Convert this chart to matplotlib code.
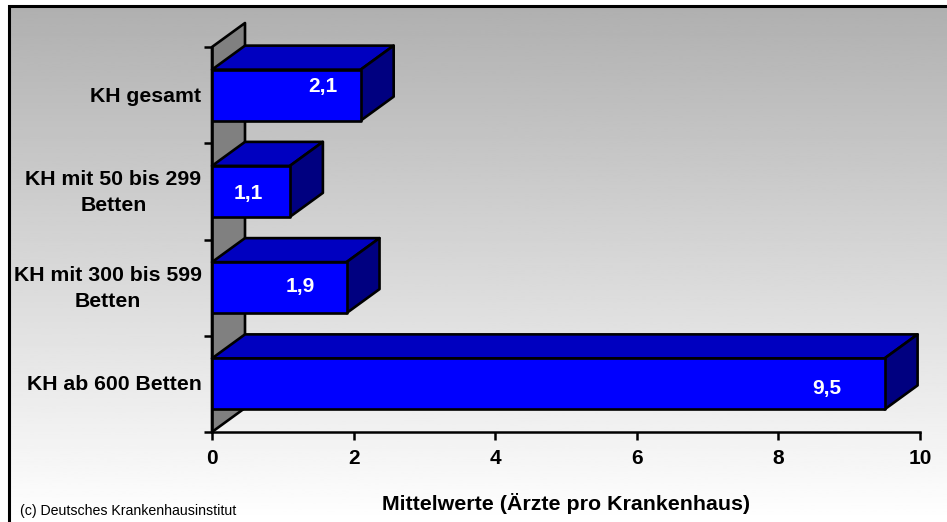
import matplotlib
matplotlib.use("Agg")
import matplotlib.pyplot as plt
import numpy as np
from matplotlib.patches import Polygon, Rectangle

# bottom to top, as the category axis runs
categories = ["KH ab 600 Betten", "KH mit 300 bis 599\nBetten", "KH mit 50 bis 299\nBetten", "KH gesamt"]
values = [9.5, 1.9, 1.1, 2.1]
value_labels = ["9,5", "1,9", "1,1", "2,1"]
x_ticks = [0, 2, 4, 6, 8, 10]

W, H = 947, 522
plt.rcParams["font.family"] = ["Liberation Sans", "DejaVu Sans"]

fig = plt.figure(figsize=(W / 100, H / 100), dpi=100, facecolor="white")

# --- panel background with vertical gradient ---------------------------------
bg = fig.add_axes([0, 0, 1, 1], zorder=0)
bg.set_xlim(0, W)
bg.set_ylim(H, 0)
bg.axis("off")
grad = np.linspace(0.69, 1.0, 256).reshape(-1, 1)
bg.imshow(grad, cmap="gray", vmin=0, vmax=1, aspect="auto", extent=(9, W, H, 7))
bg.set_xlim(0, W)
bg.set_ylim(H, 0)
bg.plot([8.5, 8.5, W], [H, 6, 6], color="black", lw=2.2, solid_joinstyle="miter")

# --- plot axes ---------------------------------------------------------------
ax = fig.add_axes([212 / W, (H - 432) / H, 708 / W, 385 / H], zorder=1)
ax.patch.set_alpha(0)
ax.set_xlim(0, 10)
ax.set_ylim(0, 4)
for side in ("top", "right"):
    ax.spines[side].set_visible(False)
for side in ("left", "bottom"):
    ax.spines[side].set_linewidth(1.8)

# 3-D look: depth offset of the box, in data units
dx, dy = 33 / 70.8, 24 / 96.25
bar_h = 51 / 96.25
edge = dict(edgecolor="black", linewidth=1.9, joinstyle="round", clip_on=False)

wall = Polygon([(0, 0), (dx, dy), (dx, 4 + dy), (0, 4)], facecolor="#808080", zorder=2, **edge)
ax.add_patch(wall)

# label offsets from the bar end, in data units
nudge_x = [-0.81, -0.65, -0.59, -0.54]
nudge_y = [-0.05, 0.01, -0.02, 0.09]

for i, (val, txt) in enumerate(zip(values, value_labels)):
    y0 = i + 0.5 - bar_h / 2
    y1 = y0 + bar_h
    z = 3 + (4 - i)
    ax.add_patch(Polygon([(0, y1), (dx, y1 + dy), (val + dx, y1 + dy), (val, y1)],
                         facecolor="#0000c0", zorder=z, **edge))
    ax.add_patch(Polygon([(val, y0), (val + dx, y0 + dy), (val + dx, y1 + dy), (val, y1)],
                         facecolor="#000080", zorder=z, **edge))
    ax.add_patch(Rectangle((0, y0), val, bar_h, facecolor="#0000ff", zorder=z, **edge))
    ax.text(val + nudge_x[i], i + 0.5 + nudge_y[i], txt, color="white", fontsize=15,
            fontweight="bold", ha="center", va="center", zorder=z + 1)

ax.set_xticks(x_ticks)
ax.set_xticklabels([str(t) for t in x_ticks], fontsize=15, fontweight="bold")
ax.tick_params(axis="x", length=6, width=1.8, pad=6)
ax.set_yticks(range(5))
ax.set_yticklabels([])
ax.tick_params(axis="y", length=6, width=1.8)

# category labels sit between the ticks
for i, cat in enumerate(categories):
    ax.annotate(cat, xy=(0, i + 0.5), xytext=(-10.5, -1), textcoords="offset pixels",
                ha="right", va="center", multialignment="center", linespacing=1.42,
                fontsize=15.3, fontweight="bold", annotation_clip=False)

fig.text(566 / W, 1 - 503 / H, "Mittelwerte (Ärzte pro Krankenhaus)", fontsize=15.4,
         fontweight="bold", ha="center", va="center")
fig.text(20 / W, 1 - 511 / H, "(c) Deutsches Krankenhausinstitut", fontsize=10.2,
         ha="left", va="center")

fig.savefig("out.png", dpi=100)
